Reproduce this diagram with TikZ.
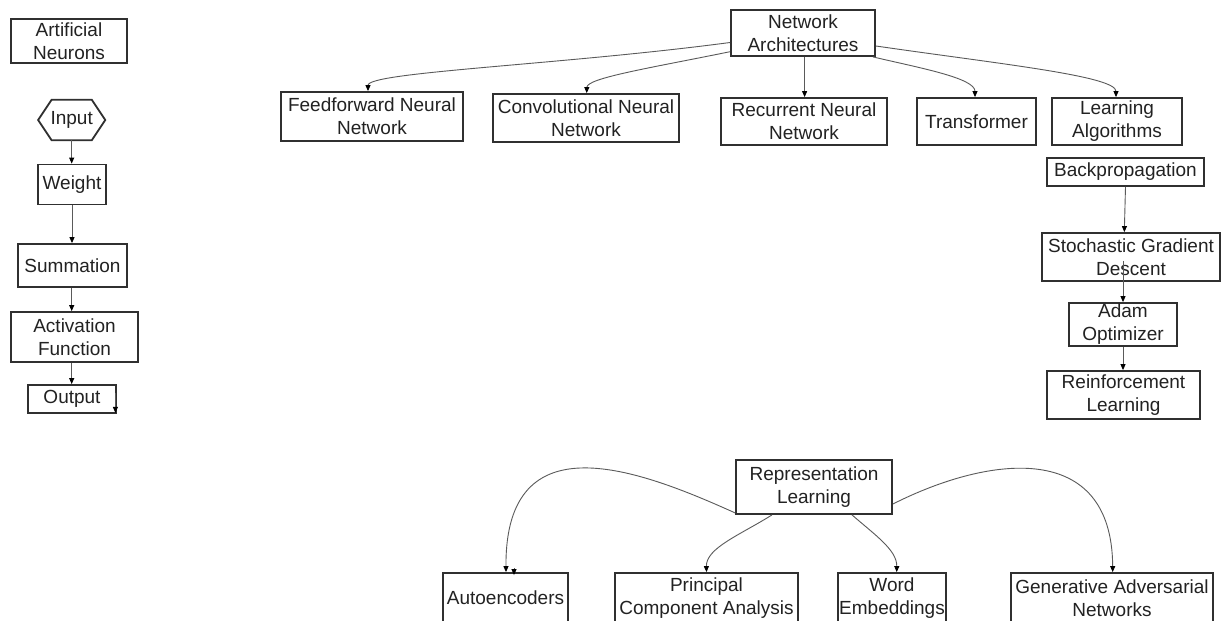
\documentclass[tikz,border=0pt]{standalone}
\usepackage{fontspec}
\setmainfont{Liberation Sans}
\usetikzlibrary{arrows.meta,calc}

\definecolor{boxc}{HTML}{303030}
\definecolor{edgec}{HTML}{5A5A5A}
\definecolor{txt}{HTML}{222222}

\tikzset{
  box/.style={draw=boxc, line width=1.8pt, rectangle, inner sep=0pt,
    align=center, text=txt, font=\fontsize{19}{23}\selectfont},
  plain/.style={inner sep=0pt, align=center, text=txt,
    font=\fontsize{19}{23}\selectfont},
  arr/.style={draw=edgec, line width=0.9pt,
    -{Triangle[length=6pt,width=5pt,color=black]}},
}

\begin{document}
\begin{tikzpicture}[x=1pt,y=-1pt]
  \useasboundingbox[fill=white] (0,0) rectangle (1221,621);

  % ---- neuron pipeline ----
  \node[box, minimum width=116pt, minimum height=44pt] (an) at (69,41) {Artificial\\Neurons};
  \node[plain, minimum width=66.7pt, minimum height=40pt] (inp) at (71.7,120) {Input};
  \draw[boxc, line width=1.8pt, line join=miter]
    (inp.west) -- ([xshift=13.4pt]inp.north west) -- ([xshift=-13.4pt]inp.north east)
    -- (inp.east) -- ([xshift=-13.4pt]inp.south east) -- ([xshift=13.4pt]inp.south west) -- cycle;
  \node[box, minimum width=68pt, minimum height=40pt] (wt) at (72,184.5) {Weight};
  \node[box, minimum width=109pt, minimum height=43pt] (sum) at (72.5,265.5) {Summation};
  \node[box, minimum width=127pt, minimum height=50pt] (act) at (74.5,337) {Activation\\Function};
  \node[box, minimum width=88pt, minimum height=28pt] (out) at (72,399) {Output};

  \draw[arr] (inp.south) -- (inp.south |- wt.north);
  \draw[arr] (wt.south) -- (wt.south |- sum.north);
  \draw[arr] (inp.south |- sum.south) -- (inp.south |- act.north);
  \draw[arr] (inp.south |- act.south) -- (inp.south |- out.north);
  \draw[arr] ([xshift=-1.5pt,yshift=6pt]out.east) -- ([xshift=-1.5pt,yshift=1pt]out.south east);

  % ---- architectures ----
  \node[box, minimum width=144pt, minimum height=46pt] (na) at (803,33) {Network\\Architectures};
  \node[box, minimum width=182pt, minimum height=49pt] (ff) at (372,116.5) {Feedforward Neural\\Network};
  \node[box, minimum width=186pt, minimum height=48pt] (cnn) at (586,118) {Convolutional Neural\\Network};
  \node[box, minimum width=166pt, minimum height=47pt] (rnn) at (804,121.5) {Recurrent Neural\\Network};
  \node[box, minimum width=119pt, minimum height=47pt] (tr) at (976.5,121.5) {Transformer};
  \node[box, minimum width=130pt, minimum height=47pt] (la) at (1117,121.5) {Learning\\Algorithms};

  \draw[arr] ([yshift=-9.5pt]na.west) .. controls (560,65) and (368,72) .. ([xshift=-4pt]ff.north);
  \draw[arr] ([yshift=-18.7pt]na.west) .. controls (650,68) and (587,78) .. ([xshift=0.7pt]cnn.north);
  \draw[arr] ([xshift=0.6pt]rnn.north |- na.south) -- ([xshift=0.6pt]rnn.north);
  \draw[arr] ([xshift=-3pt]na.south east) .. controls (920,68) and (975,78) .. ([xshift=-1.5pt]tr.north);
  \draw[arr] ([yshift=-13pt]na.east) .. controls (1000,64) and (1116,76) .. ([xshift=-1pt]la.north);

  % ---- learning algorithms ----
  \node[box, minimum width=157pt, minimum height=28pt] (bp) at (1125.5,172) {Backpropagation};
  \node[box, minimum width=178pt, minimum height=48pt] (sgd) at (1131,257) {Stochastic Gradient\\Descent};
  \node[box, minimum width=108pt, minimum height=43pt] (adam) at (1123,324.5) {Adam\\Optimizer};
  \node[box, minimum width=153pt, minimum height=48pt] (rl) at (1123.5,395) {Reinforcement\\Learning};

  \draw[arr] (bp.south) -- ([xshift=-6.7pt]sgd.north);
  \draw[arr] ($(adam.north |- sgd.south)+(0,-21)$) -- (adam.north);
  \draw[arr] (adam.south) -- (adam.south |- rl.north);

  % ---- representation learning ----
  \node[box, minimum width=156pt, minimum height=54pt] (rep) at (814,487) {Representation\\Learning};
  \node[box, minimum width=125pt, minimum height=50pt] (ae) at (505.5,598) {Autoencoders};
  \node[box, minimum width=183pt, minimum height=50pt] (pca) at (706.5,598) {Principal\\Component Analysis};
  \node[box, minimum width=108pt, minimum height=50pt] (we) at (892,598) {Word\\Embeddings};
  \node[box, minimum width=202pt, minimum height=50pt] (gan) at (1112,598) {Generative Adversarial\\Networks};

  \draw[arr] ([yshift=2pt]rep.south west) .. controls (640,470) and (505,418) .. ([xshift=0.5pt]ae.north);
  \draw[arr] ([xshift=8.5pt,yshift=4pt]ae.north) -- ([xshift=8.5pt,yshift=-3pt]ae.north);
  \draw[arr] ([xshift=-42pt]rep.south) .. controls (740,535) and (706,548) .. (pca.north);
  \draw[arr] ([xshift=38pt]rep.south) .. controls (875,535) and (897,550) .. ([xshift=4.7pt]we.north);
  \draw[arr] ([yshift=-17pt]rep.east) .. controls (990,455) and (1112,440) .. ([xshift=0.7pt]gan.north);
\end{tikzpicture}
\end{document}
